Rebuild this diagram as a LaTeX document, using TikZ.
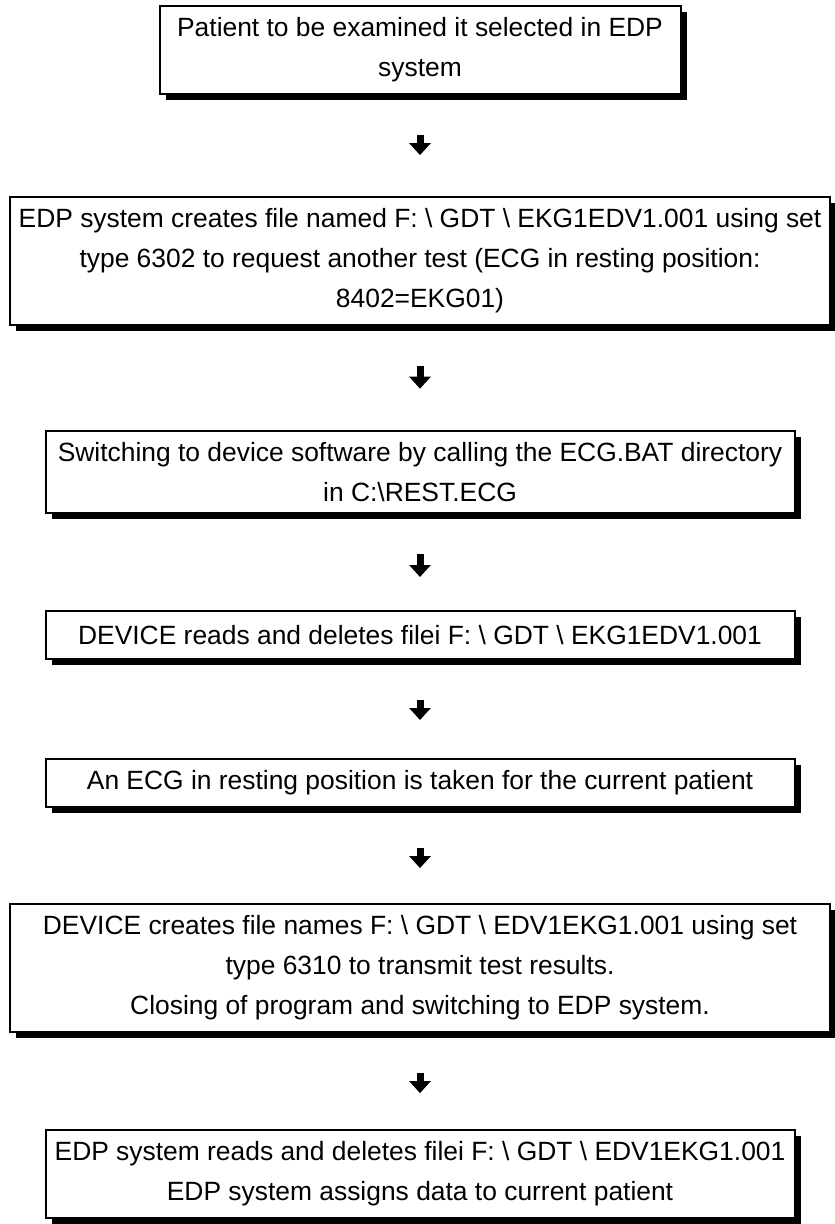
\documentclass[tikz,border=0pt]{standalone}
\usepackage{fontspec}
\setmainfont{Liberation Sans}
\usetikzlibrary{arrows.meta,shadows}

\begin{document}
\begin{tikzpicture}[x=0.5pt, y=-0.5pt,
    % Styles
    stage/.style={
        draw=black, line width=1pt, fill=white,
        minimum width=#1, minimum height=24pt,
        inner xsep=4pt, inner ysep=5.8pt,
        font=\fontsize{13.2}{20}\selectfont, align=center,
        drop shadow={shadow xshift=3pt, shadow yshift=-3pt,
            fill=black, opacity=1}
    },
    conn/.style={
        -{Triangle[width=10.5pt, length=6pt]}, line width=3.5pt,
        shorten <=20pt, shorten >=#1
    }
]
\useasboundingbox (0,0) rectangle (834,1224);

% =============================================
% EDP SYSTEM: request
% =============================================

\node[stage=260.5pt] (select) at (420, 50)
    {Patient to be examined it selected in EDP\\system};

\node[stage=410pt] (request) at (420, 261)
    {EDP system creates file named F: \textbackslash\ GDT \textbackslash\ EKG1EDV1.001 using set\\
     type 6302 to request another test (ECG in resting position:\\
     8402=EKG01)};
\draw[conn=20.5pt] (select) -- (request);

\node[stage=374.5pt] (switch) at (420, 472)
    {Switching to device software by calling the ECG.BAT directory\\
     in C:\textbackslash REST.ECG};
\draw[conn=20.5pt] (request) -- (switch);

% =============================================
% DEVICE: test
% =============================================

\node[stage=374.5pt] (readreq) at (420, 635)
    {DEVICE reads and deletes filei F: \textbackslash\ GDT \textbackslash\ EKG1EDV1.001};
\draw[conn=16.5pt] (switch) -- (readreq);

\node[stage=374.5pt] (ecg) at (420, 783)
    {An ECG in resting position is taken for the current patient};
\draw[conn=19pt] (readreq) -- (ecg);

\node[stage=410pt] (result) at (420, 968)
    {DEVICE creates file names F: \textbackslash\ GDT \textbackslash\ EDV1EKG1.001 using set\\
     type 6310 to transmit test results.\\
     Closing of program and switching to EDP system.};
\draw[conn=17.5pt] (ecg) -- (result);

% =============================================
% EDP SYSTEM: result
% =============================================

\node[stage=374.5pt] (assign) at (420, 1174)
    {EDP system reads and deletes filei F: \textbackslash\ GDT \textbackslash\ EDV1EKG1.001\\
     EDP system assigns data to current patient};
\draw[conn=18pt] (result) -- (assign);

\end{tikzpicture}
\end{document}
